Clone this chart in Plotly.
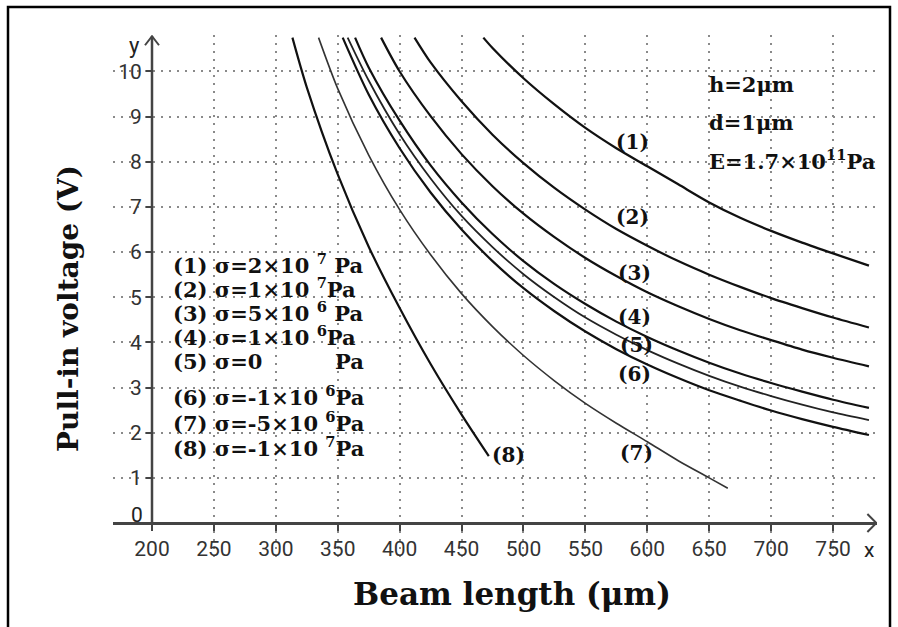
import plotly.graph_objects as go

# ---------------- data ----------------
curve_names = ["(1)", "(2)", "(3)", "(4)", "(5)", "(6)", "(7)", "(8)"]

len_1 = [467.6, 475, 500, 525, 550, 575, 600, 625, 650, 675, 700, 725, 750, 779]
v_1 = [10.75, 10.52, 9.85, 9.27, 8.75, 8.3, 7.9, 7.5, 7.1, 6.76, 6.47, 6.21, 5.97, 5.7]

len_2 = [412, 425, 450, 475, 500, 525, 550, 575, 600, 625, 650, 675, 700, 725, 750, 779]
v_2 = [10.75, 10.2, 9.34, 8.6, 7.97, 7.42, 6.94, 6.51, 6.14, 5.8, 5.5, 5.23, 4.98, 4.76, 4.55, 4.33]

len_3 = [385, 400, 425, 450, 475, 500, 525, 550, 575, 600, 625, 650, 675, 700, 725, 750, 779]
v_3 = [10.75, 10.0, 9.01, 8.17, 7.46, 6.85, 6.33, 5.87, 5.47, 5.11, 4.8, 4.52, 4.27, 4.05, 3.84, 3.66, 3.47]

len_4 = [364, 375, 400, 425, 450, 475, 500, 525, 550, 575, 600, 625, 650, 675, 700, 725, 750, 779]
v_4 = [10.75, 10.09, 8.91, 7.92, 7.1, 6.4, 5.8, 5.29, 4.85, 4.46, 4.12, 3.82, 3.55, 3.31, 3.1, 2.91, 2.73, 2.55]

len_5 = [358, 375, 400, 425, 450, 475, 500, 525, 550, 575, 600, 625, 650, 675, 700, 725, 750, 779]
v_5 = [10.75, 9.8, 8.61, 7.63, 6.8, 6.11, 5.51, 5.0, 4.55, 4.17, 3.83, 3.53, 3.26, 3.02, 2.81, 2.62, 2.45, 2.28]

len_6 = [354, 375, 400, 425, 450, 475, 500, 525, 550, 575, 600, 625, 650, 675, 700, 725, 750, 779]
v_6 = [10.75, 9.49, 8.3, 7.32, 6.5, 5.8, 5.2, 4.69, 4.24, 3.85, 3.51, 3.21, 2.94, 2.71, 2.49, 2.3, 2.13, 1.95]

len_7 = [334.5, 350, 375, 400, 425, 450, 475, 500, 525, 550, 575, 600, 625, 650, 665]
v_7 = [10.75, 9.62, 8.15, 6.94, 5.94, 5.08, 4.35, 3.71, 3.15, 2.65, 2.21, 1.8, 1.38, 1.0, 0.77]

len_8 = [313.4, 325, 350, 375, 400, 425, 450, 472]
v_8 = [10.75, 9.65, 7.72, 6.12, 4.76, 3.52, 2.4, 1.48]

curve_widths = [2.3, 2.2, 2.2, 2.2, 1.8, 2.2, 1.6, 2.2]
curve_colors = ["#111", "#111", "#111", "#111", "#222", "#111", "#333", "#111"]

x_ticks = [200, 250, 300, 350, 400, 450, 500, 550, 600, 650, 700, 750]
x_grid = [250, 300, 350, 400, 450, 500, 550, 600, 650, 700, 750]
y_ticks = [1, 2, 3, 4, 5, 6, 7, 8, 9, 10]

legend_lines = [
    "(1) σ=2×10 <sup>7</sup> Pa",
    "(2) σ=1×10 <sup>7</sup>Pa",
    "(3) σ=5×10 <sup>6</sup> Pa",
    "(4) σ=1×10 <sup>6</sup>Pa",
    "(5) σ=0",
    "(6) σ=-1×10 <sup>6</sup>Pa",
    "(7) σ=-5×10 <sup>6</sup>Pa",
    "(8) σ=-1×10 <sup>7</sup>Pa",
]
legend_py = [264, 288, 312, 336, 361, 396, 422, 447]

# curve label positions (data coords)
label_x = [587.7, 587.7, 589.3, 589.3, 590.9, 589.3, 590.9, 487.5]
label_y = [8.44, 6.78, 5.54, 4.56, 3.94, 3.30, 1.55, 1.51]

params_text = ["h=2μm", "d=1μm", "E=1.7×10<sup>11</sup>Pa"]
params_py = [84, 122, 160]

# ---------------- layout geometry ----------------
W, H = 898, 627
ML, MR, MT, MB = 113, 21, 35, 67
PW, PH = W - ML - MR, H - MT - MB
X_RANGE = [168.5, 785.5]
Y_RANGE = [-0.8195, 10.808]


def paper(px, py):
    return (px - ML) / PW, (H - MB - py) / PH


fig = go.Figure()

lengths = [len_1, len_2, len_3, len_4, len_5, len_6, len_7, len_8]
volts = [v_1, v_2, v_3, v_4, v_5, v_6, v_7, v_8]
for name, xs, ys, w, c in zip(curve_names, lengths, volts, curve_widths, curve_colors):
    fig.add_trace(go.Scatter(x=xs, y=ys, mode="lines", name=name,
                             line=dict(color=c, width=w, shape="spline", smoothing=0.8),
                             showlegend=False, hoverinfo="skip"))

serif = "DejaVu Serif"
sans = "Roboto"
annotations = []
LEG_SIZE = 21

# legend text block
for txt, py in zip(legend_lines, legend_py):
    xp, yp = paper(171, py)
    annotations.append(dict(xref="paper", yref="paper", x=xp, y=yp, text=txt,
                            showarrow=False, xanchor="left", yanchor="middle",
                            font=dict(family=serif, size=LEG_SIZE, color="#111", weight="bold")))
xp, yp = paper(333, legend_py[4])
annotations.append(dict(xref="paper", yref="paper", x=xp, y=yp, text="Pa",
                        showarrow=False, xanchor="left", yanchor="middle",
                        font=dict(family=serif, size=LEG_SIZE, color="#111", weight="bold")))

# curve labels
for name, lx, ly in zip(curve_names, label_x, label_y):
    annotations.append(dict(xref="x", yref="y", x=lx, y=ly, text=name, showarrow=False,
                            xanchor="center", yanchor="middle",
                            font=dict(family=serif, size=20, color="#111", weight="bold")))

# parameter block
for txt, py in zip(params_text, params_py):
    xp, yp = paper(707, py)
    annotations.append(dict(xref="paper", yref="paper", x=xp, y=yp, text=txt,
                            showarrow=False, xanchor="left", yanchor="middle",
                            font=dict(family=serif, size=21, color="#111", weight="bold")))

# axis titles
xp, yp = paper(512, 594)
annotations.append(dict(xref="paper", yref="paper", x=xp, y=yp, text="Beam length (μm)",
                        showarrow=False, xanchor="center", yanchor="middle",
                        font=dict(family=serif, size=31, color="#111", weight="bold")))
xp, yp = paper(68, 309)
annotations.append(dict(xref="paper", yref="paper", x=xp, y=yp, text="Pull-in voltage (V)",
                        showarrow=False, xanchor="center", yanchor="middle", textangle=-90,
                        font=dict(family=serif, size=28, color="#111", weight="bold")))

# axis letters and the "0"
for txt, (px, py, sz) in [("0", (137, 515, 21)), ("x", (869, 550, 21)), ("y", (134, 45, 22))]:
    xp, yp = paper(px, py)
    annotations.append(dict(xref="paper", yref="paper", x=xp, y=yp, text=txt,
                            showarrow=False, xanchor="center", yanchor="middle",
                            font=dict(family=sans, size=sz, color="#222")))

shapes = []
# y-axis line
shapes.append(dict(type="line", xref="x", yref="y", x0=200, x1=200, y0=0, y1=10.78,
                   line=dict(color="#444", width=2.5)))
# arrow chevrons
shapes.append(dict(type="path", xref="x", yref="y", xsizemode="pixel", ysizemode="pixel",
                   xanchor=X_RANGE[1] - 0.5, yanchor=0, path="M -9,9 L 0,0 L -9,-9",
                   line=dict(color="#444", width=2)))
shapes.append(dict(type="path", xref="x", yref="y", xsizemode="pixel", ysizemode="pixel",
                   xanchor=200, yanchor=10.78, path="M -7,-9 L 0,0 L 7,-9",
                   line=dict(color="#444", width=2)))
# image border
bx0, by0 = paper(8, 640)
bx1, by1 = paper(890, 7)
shapes.append(dict(type="rect", xref="paper", yref="paper", x0=bx0, y0=by0, x1=bx1, y1=by1,
                   line=dict(color="#000", width=2.5), layer="above"))

GRID_DASH = "2px,6px"
fig.update_layout(
    width=W, height=H,
    margin=dict(l=ML, r=MR, t=MT, b=MB),
    paper_bgcolor="white", plot_bgcolor="white",
    annotations=annotations, shapes=shapes,
    xaxis=dict(range=X_RANGE, tickvals=x_ticks, ticktext=[str(v) for v in x_ticks],
               showgrid=False, zeroline=False, showline=True, linecolor="#444", linewidth=2.5,
               ticks="outside", ticklen=6, tickwidth=2, tickcolor="#444",
               tickfont=dict(family=sans, size=21, color="#333"),
               anchor="free", position=(0 - Y_RANGE[0]) / (Y_RANGE[1] - Y_RANGE[0]),
               minor=dict(tickvals=x_grid, showgrid=True, gridcolor="#8a8a8a", griddash=GRID_DASH,
                          gridwidth=2, ticklen=0)),
    yaxis=dict(range=Y_RANGE, tickvals=y_ticks, ticktext=[str(v) for v in y_ticks],
               showgrid=True, gridcolor="#8a8a8a", griddash=GRID_DASH, gridwidth=2,
               zeroline=False, showline=False,
               ticks="outside", ticklen=6, tickwidth=2, tickcolor="#444",
               tickfont=dict(family=sans, size=21, color="#333"),
               anchor="free", position=(200 - X_RANGE[0]) / (X_RANGE[1] - X_RANGE[0])),
)

fig.write_html("out.html")
